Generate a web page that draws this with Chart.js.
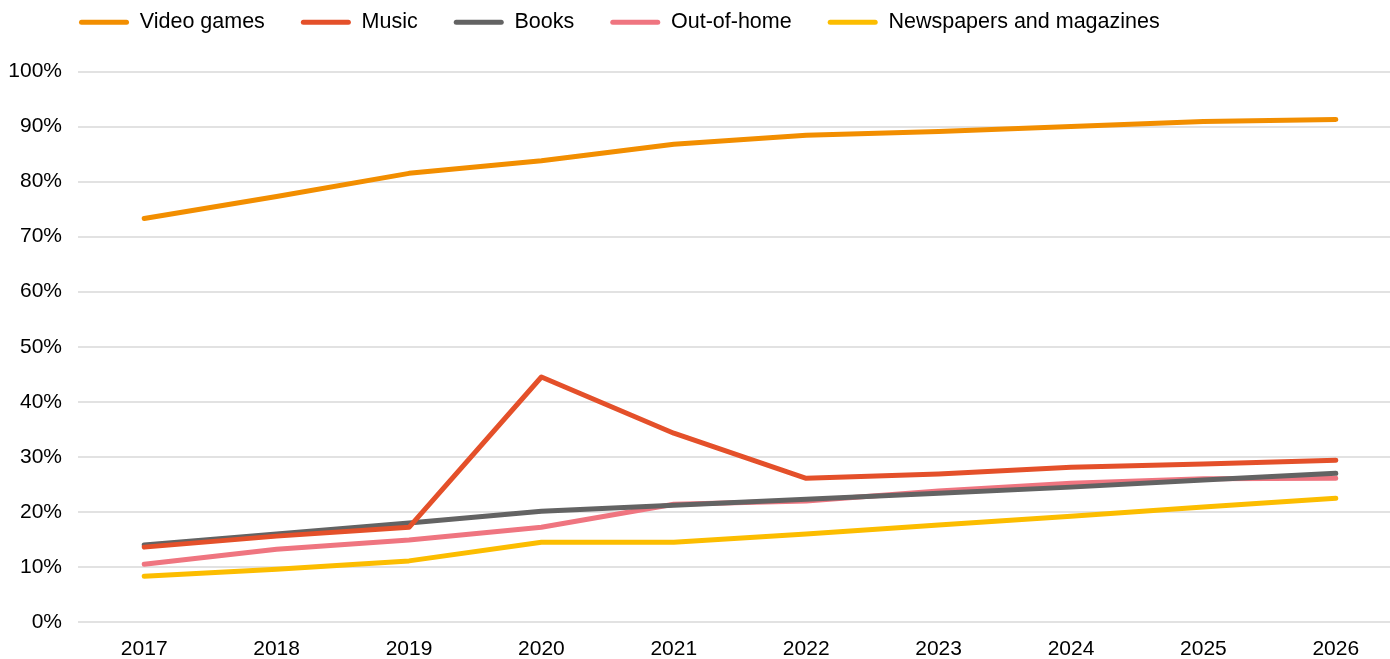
<!DOCTYPE html>
<html>
<head>
<meta charset="utf-8">
<script src="https://cdn.jsdelivr.net/npm/chart.js@4"></script>
<style>
  html, body { margin: 0; padding: 0; background: #fff; overflow: hidden; }
  #wrap { width: 1402px; height: 659px; position: relative; }
</style>
</head>
<body>
<div id="wrap"><canvas id="chart"></canvas></div>
<script>
const years = ['2017', '2018', '2019', '2020', '2021', '2022', '2023', '2024', '2025', '2026'];

const videoGames = [73.3, 77.3, 81.5, 83.8, 86.8, 88.4, 89.1, 90.0, 90.9, 91.3];
const music = [13.6, 15.6, 17.2, 44.5, 34.3, 26.1, 26.9, 28.1, 28.7, 29.4];
const books = [14.0, 16.0, 18.0, 20.1, 21.2, 22.3, 23.4, 24.5, 25.8, 27.0];
const outOfHome = [10.5, 13.2, 14.9, 17.2, 21.4, 22.0, 23.8, 25.2, 26.0, 26.1];
const newspapers = [8.3, 9.6, 11.1, 14.5, 14.5, 16.0, 17.6, 19.2, 20.9, 22.5];

const FONT = "'Liberation Sans', Arial, sans-serif";

function series(label, data, color) {
  return {
    label: label,
    data: data,
    borderColor: color,
    backgroundColor: color,
    borderWidth: 5,
    borderCapStyle: 'round',
    borderJoinStyle: 'round',
    tension: 0,
    pointRadius: 0,
    fill: false,
  };
}

// nudge the legend row up and right after layout
const legendShift = {
  id: 'legendShift',
  afterLayout(chart) {
    chart.legend.left += 43;
    chart.legend.top -= 28.5;
  }
};

new Chart(document.getElementById('chart'), {
  type: 'line',
  data: {
    labels: years,
    datasets: [
      series('Video games', videoGames, '#f28e00'),
      series('Music', music, '#e4502a'),
      series('Books', books, '#636363'),
      series('Out-of-home', outOfHome, '#ef7580'),
      series('Newspapers and magazines', newspapers, '#fcbd00'),
    ],
  },
  options: {
    responsive: true,
    maintainAspectRatio: false,
    animation: false,
    layout: { padding: { top: 4, left: 0, right: 0, bottom: 0 } },
    plugins: {
      tooltip: { enabled: false },
      legend: {
        position: 'top',
        align: 'start',
        labels: {
          color: '#000',
          font: { family: FONT, size: 21.5 },
          boxWidth: 50,
          boxHeight: 5,
          padding: 36,
          generateLabels(chart) {
            const items = Chart.defaults.plugins.legend.labels.generateLabels(chart);
            return items.map((item) => ({ ...item, lineWidth: 0, borderRadius: 2.5 }));
          },
          useBorderRadius: true,
          borderRadius: 2.5,
        },
      },
    },
    scales: {
      x: {
        offset: true,
        grid: { display: false, drawTicks: false },
        border: { display: false },
        ticks: {
          color: '#000',
          padding: 17,
          font: { family: FONT, size: 21, lineHeight: 1 },
          maxRotation: 0,
        },
        afterFit(scale) { scale.height = 37; },
      },
      y: {
        min: 0,
        max: 100,
        grid: { color: '#e2e2e2', lineWidth: 2, drawTicks: false },
        border: { display: false },
        ticks: {
          stepSize: 10,
          color: '#000',
          padding: 16,
          font: { family: FONT, size: 21 },
          callback: (v) => v + '%',
        },
        afterFit(scale) { scale.width = 78; },
      },
    },
  },
  plugins: [legendShift],
});
</script>
</body>
</html>
